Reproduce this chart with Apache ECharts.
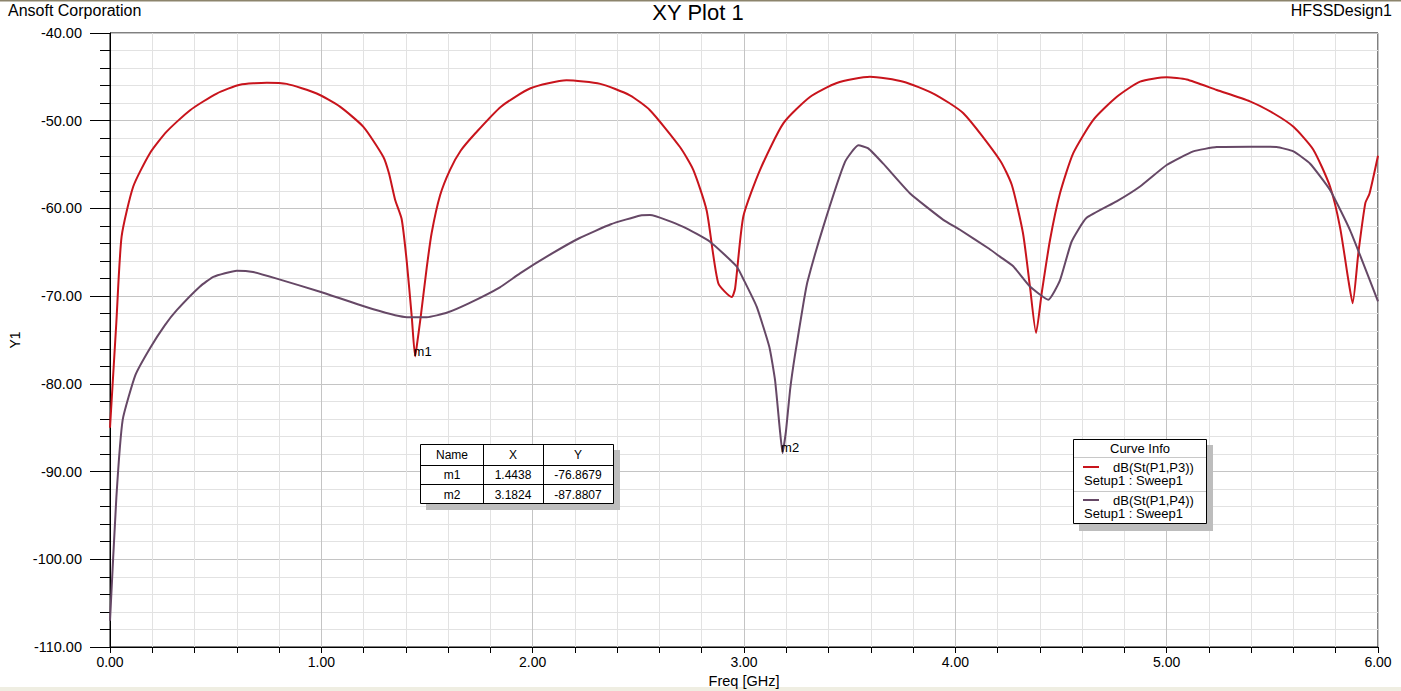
<!DOCTYPE html>
<html><head><meta charset="utf-8">
<script src="https://cdn.jsdelivr.net/npm/echarts@6/dist/echarts.min.js"></script>
<style>html,body{margin:0;padding:0;background:#fff}#c{width:1401px;height:691px}</style>
</head><body><div id="c"></div>
<script>
// dB(St(P1,P3)) — red
const p13Freq = [0, 0.03, 0.055, 0.11, 0.189, 0.268, 0.379, 0.505, 0.615, 0.742, 0.836, 0.978, 1.088, 1.199, 1.293, 1.32, 1.349, 1.38, 1.404, 1.428, 1.4438, 1.451, 1.47, 1.499, 1.522, 1.562, 1.609, 1.66, 1.73, 1.85, 1.99, 2.16, 2.32, 2.46, 2.555, 2.697, 2.76, 2.823, 2.878, 2.942, 2.958, 2.997, 3.076, 3.186, 3.312, 3.439, 3.596, 3.754, 3.896, 4.038, 4.211, 4.267, 4.32, 4.353, 4.382, 4.409, 4.448, 4.495, 4.558, 4.653, 4.763, 4.874, 5.0, 5.095, 5.237, 5.394, 5.505, 5.6, 5.694, 5.773, 5.82, 5.86, 5.88, 5.907, 5.94, 5.96, 6.0];
const p13dB = [-85, -73, -63.2, -57.5, -53.7, -51.25, -48.8, -46.9, -45.9, -45.67, -45.8, -46.9, -48.4, -50.7, -54.1, -56.0, -59.0, -61.2, -66.0, -72.4, -76.8679, -75.8, -72.4, -66.7, -62.8, -58.5, -55.6, -53.4, -51.4, -48.4, -46.3, -45.4, -45.8, -47.1, -48.8, -53.0, -55.6, -60.2, -68.5, -70.1, -69.1, -60.9, -55.6, -50.3, -47.3, -45.7, -44.98, -45.55, -46.9, -49.15, -54.5, -57.3, -62.8, -68.9, -74.2, -69.6, -63.6, -58.3, -53.7, -49.9, -47.3, -45.55, -45.05, -45.3, -46.5, -47.8, -49.15, -50.7, -53.3, -57.5, -62.1, -68.2, -70.8, -65.1, -59.4, -58.3, -54.0];

// dB(St(P1,P4)) — purple
const p14Freq = [0, 0.03, 0.06, 0.12, 0.19, 0.26, 0.316, 0.426, 0.489, 0.6, 0.677, 0.789, 0.994, 1.246, 1.404, 1.499, 1.593, 1.70, 1.845, 1.94, 2.08, 2.22, 2.37, 2.51, 2.555, 2.713, 2.839, 2.965, 3.0, 3.06, 3.12, 3.147, 3.17, 3.1824, 3.199, 3.218, 3.24, 3.28, 3.30, 3.375, 3.478, 3.541, 3.588, 3.659, 3.786, 3.943, 4.02, 4.16, 4.211, 4.274, 4.353, 4.44, 4.495, 4.55, 4.62, 4.763, 4.874, 5.0, 5.126, 5.237, 5.394, 5.52, 5.6, 5.679, 5.773, 5.868, 6.0];
const p14dB = [-107, -93, -84.1, -79, -75.9, -73.3, -71.6, -68.9, -67.8, -67.1, -67.25, -68.0, -69.5, -71.5, -72.4, -72.4, -71.9, -70.8, -69.0, -67.4, -65.3, -63.4, -61.8, -60.8, -60.75, -62.1, -63.8, -66.6, -68.2, -71.2, -75.8, -79.6, -85.3, -87.8807, -85.3, -80.7, -76.9, -71.0, -68.4, -62.1, -54.7, -52.8, -53.15, -54.9, -58.3, -61.3, -62.4, -64.6, -65.5, -66.6, -68.9, -70.4, -68.2, -63.8, -61.1, -59.2, -57.5, -55.05, -53.5, -53.0, -52.96, -53.0, -53.5, -54.9, -57.9, -62.5, -70.6];

// markers
const markerNames = ['m1', 'm2'];
const markerX = [1.4438, 3.1824];
const markerY = [-76.8679, -87.8807];

// axis ticks
const xTickLabels = ['0.00', '1.00', '2.00', '3.00', '4.00', '5.00', '6.00'];
const yTickLabels = ['-110.00', '-100.00', '-90.00', '-80.00', '-70.00', '-60.00', '-50.00', '-40.00'];

const legendNames = ['dB(St(P1,P3))', 'dB(St(P1,P4))'];
const legendSub = 'Setup1 : Sweep1';
const colors = ['#c8141c', '#664866'];

const FONT = '"Liberation Sans", Arial, sans-serif';
const zip = (a, b) => a.map((v, i) => [v, b[i]]);

const chart = echarts.init(document.getElementById('c'), null, {renderer: 'svg'});

function markerLabel(i) {
  return {
    name: markerNames[i], coord: [markerX[i], markerY[i]],
    symbol: 'circle', symbolSize: 1, itemStyle: {color: 'rgba(0,0,0,0)'},
    label: {show: true, formatter: markerNames[i], position: 'right', distance: 0, offset: [-2, -5],
            color: '#000', fontSize: 13, fontFamily: FONT}
  };
}

const txt = (text, x, y, size, align, extra) => Object.assign({
  type: 'text', z: 100,
  style: {text: text, x: x, y: y, font: size + 'px ' + FONT, fill: '#000', align: align || 'left', verticalAlign: 'middle'}
}, extra || {});
const ln = (x1, y1, x2, y2, color, w) => ({type: 'line', z: 100, shape: {x1, y1, x2, y2}, style: {stroke: color, lineWidth: w || 1}});
const rc = (x, y, w, h, fill, stroke, z) => ({type: 'rect', z: z === undefined ? 100 : z, shape: {x, y, width: w, height: h}, style: {fill: fill, stroke: stroke || null, lineWidth: 1}});

const graphics = [
  rc(0, 0, 1401, 1.5, '#8c846c', null, -10),
  rc(0, 687, 1401, 4, '#efeee2', null, -10),
  txt('Ansoft Corporation', 8, 10, 16),
  txt('XY Plot 1', 698, 12, 22, 'center'),
  txt('HFSSDesign1', 1392, 10, 16, 'right'),
  // marker table
  rc(426, 450, 194, 60, '#bdbdbd'),
  rc(420.5, 444.5, 193, 59, '#fff', '#000'),
  ln(483.5, 444.5, 483.5, 503.5, '#000'),
  ln(543.5, 444.5, 543.5, 503.5, '#000'),
  ln(420.5, 465.5, 613.5, 465.5, '#000'),
  ln(420.5, 484.5, 613.5, 484.5, '#000'),
  txt('Name', 452, 455, 12, 'center'),
  txt('X', 513, 455, 12, 'center'),
  txt('Y', 578, 455, 12, 'center'),
];
markerNames.forEach((n, i) => {
  const y = 475 + i * 19.5;
  graphics.push(txt(n, 452, y, 12, 'center'));
  graphics.push(txt(markerX[i].toFixed(4), 513, y, 12, 'center'));
  graphics.push(txt(markerY[i].toFixed(4), 578, y, 12, 'center'));
});
// curve info box
graphics.push(rc(1079, 445, 134, 86, '#bdbdbd'));
graphics.push(rc(1073.5, 439.5, 133, 84, '#fff', '#000'));
graphics.push(txt('Curve Info', 1140, 448, 13, 'center'));
graphics.push(ln(1074, 457.5, 1206, 457.5, '#c8c8c8'));
graphics.push(ln(1074, 491.5, 1206, 491.5, '#c8c8c8'));
legendNames.forEach((n, i) => {
  const y = 467 + i * 33;
  graphics.push(ln(1083, y, 1099, y, colors[i], 2));
  graphics.push(txt(n, 1113, y, 13, 'left'));
  graphics.push(txt(legendSub, 1084, y + 13, 13, 'left'));
});

chart.setOption({
  backgroundColor: '#fff',
  animation: false,
  grid: {left: 110, right: 23, top: 33, bottom: 44, containLabel: false, outerBoundsMode: 'none',
         show: true, borderColor: '#000', borderWidth: 1, backgroundColor: 'transparent'},
  xAxis: {
    type: 'value', min: 0, max: 6, interval: 1,
    name: 'Freq [GHz]', nameLocation: 'middle', nameGap: 14,
    nameTextStyle: {color: '#000', fontSize: 14.5, fontFamily: FONT},
    axisLine: {show: true, lineStyle: {color: '#000', width: 1}},
    axisTick: {show: true, length: 6, lineStyle: {color: '#000'}},
    minorTick: {show: true, splitNumber: 5, length: 6, lineStyle: {color: '#000'}},
    splitLine: {show: true, lineStyle: {color: '#c4c4c4', width: 1}},
    minorSplitLine: {show: true, lineStyle: {color: '#e2e2e2', width: 1}},
    axisLabel: {color: '#000', fontSize: 14, fontFamily: FONT, margin: 8,
      formatter: v => xTickLabels[Math.round(v)]}
  },
  yAxis: {
    type: 'value', min: -110, max: -40, interval: 10,
    name: 'Y1', nameLocation: 'middle', nameGap: 84, nameRotate: 90,
    nameTextStyle: {color: '#000', fontSize: 14, fontFamily: FONT},
    axisLine: {show: true, lineStyle: {color: '#000', width: 1}},
    axisTick: {show: true, length: 20, lineStyle: {color: '#000'}},
    minorTick: {show: true, splitNumber: 5, length: 10, lineStyle: {color: '#000'}},
    splitLine: {show: true, lineStyle: {color: '#c4c4c4', width: 1}},
    minorSplitLine: {show: true, lineStyle: {color: '#e2e2e2', width: 1}},
    axisLabel: {color: '#000', fontSize: 14.5, fontFamily: FONT, margin: 28,
      formatter: v => yTickLabels[Math.round((v + 110) / 10)]}
  },
  series: [
    {name: legendNames[0], type: 'line', data: zip(p13Freq, p13dB), showSymbol: false, symbol: 'none',
     smooth: 0.2, lineStyle: {color: colors[0], width: 2}, itemStyle: {color: colors[0]},
     markPoint: {data: [markerLabel(0)], animation: false}},
    {name: legendNames[1], type: 'line', data: zip(p14Freq, p14dB), showSymbol: false, symbol: 'none',
     smooth: 0.15, lineStyle: {color: colors[1], width: 2}, itemStyle: {color: colors[1]},
     markPoint: {data: [markerLabel(1)], animation: false}}
  ],
  graphic: {elements: graphics}
});
</script>
</body></html>
